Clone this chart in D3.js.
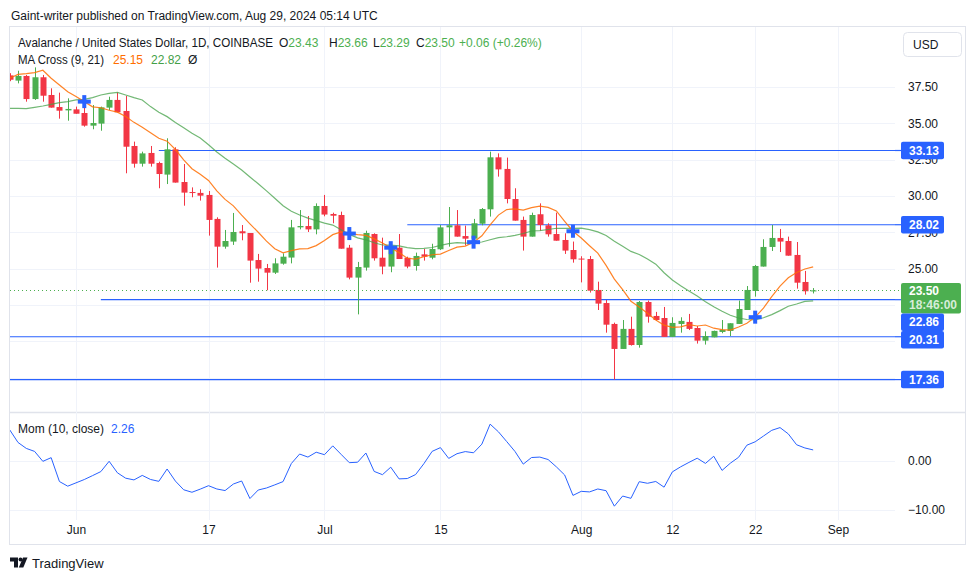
<!DOCTYPE html>
<html><head><meta charset="utf-8">
<script src="https://cdn.jsdelivr.net/npm/d3@7"></script>
<style>
body{margin:0;background:#fff}
svg{display:block}
text{font-family:"Liberation Sans",Arial,sans-serif;fill:#131722}
</style>
</head><body>
<svg id="chart" width="976" height="580"></svg>
<script>
// ---------------- DATA ----------------
const startDay = "2024-05-24";   // first daily candle (one candle per day)
const open  = [38.30,37.94,38.26,36.67,38.17,36.95,36.12,35.89,35.96,35.71,34.84,34.98,36.08,36.61,35.85,33.44,32.22,32.96,32.27,31.47,33.21,30.96,30.27,30.21,30.07,28.42,26.51,26.86,27.57,27.45,25.59,25.04,24.72,25.34,25.76,27.84,27.93,27.70,29.31,28.76,28.69,26.44,24.38,25.07,27.38,25.75,25.14,26.44,25.75,25.18,25.98,25.75,26.33,27.84,27.98,27.24,27.06,28.09,29.08,32.66,31.86,29.79,28.35,27.20,28.74,27.98,27.38,26.97,26.28,25.69,25.66,23.53,22.63,21.19,19.47,20.85,19.74,22.70,21.74,21.60,20.30,21.19,21.33,20.91,20.04,20.27,20.64,20.71,21.19,22.15,23.46,25.14,26.49,27.11,26.90,25.94,24.08,23.43];
const high  = [38.45,38.62,38.33,38.85,38.33,37.41,37.11,36.72,36.15,36.15,36.26,36.15,36.83,37.13,36.88,33.74,33.05,33.44,32.36,33.97,33.35,32.20,30.59,30.46,30.34,28.53,27.66,28.83,28.00,27.45,26.01,25.32,25.71,26.05,28.35,29.03,28.62,29.49,30.07,28.85,28.92,26.63,25.46,27.61,27.43,27.13,26.74,27.38,25.82,26.10,26.35,26.71,28.00,29.24,29.03,27.96,28.42,29.17,33.05,32.93,32.64,30.53,28.58,28.85,29.49,28.12,28.85,27.43,26.86,25.85,25.87,24.10,22.84,21.28,21.46,21.69,22.77,22.80,22.02,22.36,21.65,21.65,21.88,21.05,20.68,20.73,21.46,21.24,22.80,23.80,25.25,27.02,28.00,27.73,27.20,26.83,24.84,23.66];
const low   = [37.90,37.75,36.49,36.61,36.49,36.08,35.32,35.18,35.66,34.77,34.59,34.49,35.92,35.76,31.56,31.95,32.02,32.02,30.53,30.82,30.92,29.33,29.91,29.68,27.27,25.07,26.37,26.63,26.95,24.03,24.10,23.51,24.63,25.27,25.36,27.70,27.52,27.36,28.60,28.12,26.37,24.26,21.85,24.86,25.55,24.61,24.75,25.66,25.02,24.86,25.55,25.64,26.28,26.51,27.20,26.60,27.02,27.98,28.58,31.33,29.49,28.30,26.24,27.20,27.61,27.20,26.92,26.01,25.41,24.05,23.35,22.15,20.59,17.36,19.47,19.70,19.56,21.28,21.42,20.30,20.30,20.59,20.77,19.84,19.77,20.27,20.55,20.36,21.19,22.15,23.07,25.14,26.21,26.14,25.89,23.62,23.21,23.29];
const close = [38.00,38.26,36.67,38.17,36.90,36.08,35.87,35.99,35.66,34.84,35.02,36.10,36.61,35.76,33.39,32.22,32.93,32.22,31.51,33.21,30.92,30.23,30.23,30.02,28.35,26.51,26.90,27.52,27.43,25.55,25.00,24.72,25.36,25.82,27.84,27.93,27.70,29.31,28.72,28.64,26.37,24.38,25.11,27.45,25.71,25.14,26.44,25.66,25.14,25.87,25.82,26.35,27.84,27.98,27.20,27.06,28.12,29.10,32.66,31.83,29.79,28.30,27.20,28.69,28.00,27.36,26.92,26.24,25.64,25.64,23.48,22.59,21.14,19.47,20.85,19.74,22.70,21.69,21.46,20.30,21.26,21.40,20.85,20.04,20.36,20.71,20.78,21.24,22.22,23.53,25.18,26.49,27.11,26.86,25.89,24.03,23.44,23.50];

const ma9Lead  = [38.10,38.37,38.42,38.49,38.65,38.10,37.64,37.18];
const ma21Lead = [36.03,36.03,36.01,36.10,36.19,36.31,36.42,36.49,36.61,36.65,36.77,36.95,37.06,37.13,36.95,36.77,36.61,36.15,35.76,35.46];
const momLead  = [6.35,3.78,2.57,1.96,-0.07,0.68,-4.19,-5.14,-4.46,-3.78];

const crossDates = ["2024-06-02","2024-07-04","2024-07-09","2024-07-19","2024-07-31","2024-08-22"];
const levelPrices = [33.13, 28.02, 22.86, 20.31, 17.36];
const levelStarts = ["2024-06-11","2024-07-11","2024-06-04", null, null];

const priceTicks = [17.5, 20, 22.5, 25, 27.5, 30, 32.5, 35, 37.5];
const momTicks   = [0, -10];
const timeTicks  = ["2024-06-01","2024-06-17","2024-07-01","2024-07-15","2024-08-01","2024-08-12","2024-08-22","2024-09-01"];
const timeLabels = ["Jun","17","Jul","15","Aug","12","22","Sep"];

const lastPrice = 23.50;
const countdown = "18:46:00";
const ma9Last = "25.15", ma21Last = "22.82", momLast = "2.26";

// ---------------- SETUP ----------------
const UP = "#4caf50", DOWN = "#f23645", BLUE = "#2962ff", GRID = "#f0f3fa", BORDER = "#e0e3eb";
const parse = d3.utcParse("%Y-%m-%d");
const t0 = parse(startDay);
const dates = close.map((_, i) => d3.utcDay.offset(t0, i));

const svg = d3.select("#chart");
svg.append("rect").attr("width", 976).attr("height", 580).attr("fill", "#fff");

const P = {left: 10, right: 895, top: 27, bottom: 411};   // main pane
const M = {top: 413, bottom: 520};                        // momentum pane

const x = d3.scaleUtc().domain([parse("2024-06-01"), parse("2024-09-01")]).range([76, 838]);
const y = d3.scaleLinear().domain([37.5, 25]).range([87, 268.6]);
const ym = d3.scaleLinear().domain([0, -10]).range([461, 510]);

// indicators
const ma9 = close.map((c, i) => i < 8 ? ma9Lead[i] : d3.mean(close.slice(i - 8, i + 1)));
const ma21 = close.map((c, i) => i < 20 ? ma21Lead[i] : d3.mean(close.slice(i - 20, i + 1)));
const mom = close.map((c, i) => i < 10 ? momLead[i] : c - close[i - 10]);

const defs = svg.append("defs");
defs.append("clipPath").attr("id", "clipMain").append("rect")
  .attr("x", P.left).attr("y", P.top).attr("width", P.right - P.left).attr("height", P.bottom - P.top);
defs.append("clipPath").attr("id", "clipMom").append("rect")
  .attr("x", P.left).attr("y", M.top).attr("width", P.right - P.left).attr("height", M.bottom - M.top);

// outer frame
svg.append("rect").attr("x", 9.5).attr("y", 26.5).attr("width", 956).attr("height", 518)
  .attr("fill", "none").attr("stroke", BORDER);
// pane separator
svg.append("line").attr("x1", 9.5).attr("x2", 965.5).attr("y1", 412.5).attr("y2", 412.5)
  .attr("stroke", BORDER).attr("stroke-width", 1.5);

// grid
const grid = svg.append("g");
grid.selectAll(".vg").data(timeTicks).join("line")
  .attr("x1", d => Math.round(x(parse(d))) + 0.5).attr("x2", d => Math.round(x(parse(d))) + 0.5)
  .attr("y1", P.top).attr("y2", M.bottom).attr("stroke", GRID);
grid.selectAll(".hg").data(priceTicks).join("line")
  .attr("x1", P.left).attr("x2", P.right)
  .attr("y1", d => Math.round(y(d)) + 0.5).attr("y2", d => Math.round(y(d)) + 0.5).attr("stroke", GRID);
grid.selectAll(".mg").data(momTicks).join("line")
  .attr("x1", P.left).attr("x2", P.right)
  .attr("y1", d => Math.round(ym(d)) + 0.5).attr("y2", d => Math.round(ym(d)) + 0.5).attr("stroke", GRID);

// ---------------- MAIN PANE ----------------
const main = svg.append("g").attr("clip-path", "url(#clipMain)");

// horizontal levels
main.selectAll(".lvl").data(levelPrices).join("line")
  .attr("x1", (d, i) => levelStarts[i] ? x(parse(levelStarts[i])) : P.left)
  .attr("x2", 902)
  .attr("y1", d => y(d)).attr("y2", d => y(d))
  .attr("stroke", BLUE).attr("stroke-width", 1.2);
svg.selectAll(".lvlx").data(levelPrices).join("line")
  .attr("x1", P.right).attr("x2", 902)
  .attr("y1", d => y(d)).attr("y2", d => y(d))
  .attr("stroke", BLUE).attr("stroke-width", 1.2);

// last price dotted line
svg.append("line").attr("x1", P.left).attr("x2", 902)
  .attr("y1", Math.round(y(lastPrice)) + 0.5).attr("y2", Math.round(y(lastPrice)) + 0.5)
  .attr("stroke", UP).attr("stroke-dasharray", "1,3");

// candles
const bw = 6;
const cg = main.append("g");
const candles = cg.selectAll("g").data(close).join("g");
candles.append("line")
  .attr("x1", (d, i) => Math.round(x(dates[i])) + 0.5).attr("x2", (d, i) => Math.round(x(dates[i])) + 0.5)
  .attr("y1", (d, i) => y(high[i])).attr("y2", (d, i) => y(low[i]))
  .attr("stroke", (d, i) => close[i] >= open[i] ? UP : DOWN).attr("stroke-width", 1);
candles.append("rect")
  .attr("x", (d, i) => Math.round(x(dates[i])) + 0.5 - bw / 2)
  .attr("width", bw)
  .attr("y", (d, i) => y(Math.max(open[i], close[i])))
  .attr("height", (d, i) => Math.max(1, Math.abs(y(open[i]) - y(close[i]))))
  .attr("fill", (d, i) => close[i] >= open[i] ? UP : DOWN);

// moving averages
const lineMain = d3.line().x((d, i) => x(dates[i])).y(d => y(d));
main.append("path").datum(ma21).attr("d", lineMain)
  .attr("fill", "none").attr("stroke", "#43a047").attr("stroke-opacity", 0.75).attr("stroke-width", 1.2);
main.append("path").datum(ma9).attr("d", lineMain)
  .attr("fill", "none").attr("stroke", "#ff6d00").attr("stroke-opacity", 0.85).attr("stroke-width", 1.2);

// crosses
const crossG = main.append("g");
crossDates.forEach(ds => {
  const dt = parse(ds);
  const i = dates.findIndex(d => +d === +dt);
  const cx = x(dt), cy = y(ma9[i]);
  crossG.append("rect").attr("x", cx - 6.5).attr("y", cy - 2).attr("width", 13).attr("height", 4).attr("fill", BLUE);
  crossG.append("rect").attr("x", cx - 2).attr("y", cy - 6.5).attr("width", 4).attr("height", 13).attr("fill", BLUE);
});

// ---------------- MOMENTUM PANE ----------------
const momG = svg.append("g").attr("clip-path", "url(#clipMom)");
momG.append("path").datum(mom)
  .attr("d", d3.line().x((d, i) => x(dates[i])).y(d => ym(d)))
  .attr("fill", "none").attr("stroke", BLUE).attr("stroke-width", 1);

// ---------------- PRICE TAGS (layout first) ----------------
const fmt = d3.format(".2f");
const tagH = 17.5;
let tags = levelPrices.map(p => ({p, y: y(p), h: tagH, type: "lvl"}));
tags.push({p: lastPrice, y: y(lastPrice), h: 30.5, type: "last"});
tags.sort((a, b) => a.y - b.y);
let prevBottom = -Infinity;
tags.forEach(t => {
  let top = t.type === "last" ? t.y - 7.5 : t.y - t.h / 2;
  if (top < prevBottom) top = prevBottom;
  t.top = top; prevBottom = top + t.h;
});

// ---------------- AXES ----------------
// tick labels fully covered by a price tag are not shown (as on the reference)
const hiddenTick = v => tags.some(t => y(v) > t.top + 1 && y(v) < t.top + t.h - 3);
const pa = svg.append("g").attr("transform", "translate(906,0)")
  .call(d3.axisRight(y).tickValues(priceTicks).tickFormat(v => hiddenTick(v) ? "" : fmt(v)).tickSize(0).tickPadding(2));
pa.select(".domain").remove();
pa.selectAll("text").style("font-size", "12px").style("font-family", "Liberation Sans, Arial, sans-serif").attr("fill", "#131722");

const ma = svg.append("g").attr("transform", "translate(906,0)")
  .call(d3.axisRight(ym).tickValues(momTicks).tickFormat(fmt).tickSize(0).tickPadding(2));
ma.select(".domain").remove();
ma.selectAll("text").style("font-size", "12px").style("font-family", "Liberation Sans, Arial, sans-serif").attr("fill", "#131722");

const ta = svg.append("g").attr("transform", "translate(0,521)")
  .call(d3.axisBottom(x).tickValues(timeTicks.map(parse)).tickFormat((d, i) => timeLabels[i]).tickSize(0).tickPadding(4));
ta.select(".domain").remove();
ta.selectAll("text").style("font-size", "12px").style("font-family", "Liberation Sans, Arial, sans-serif").attr("fill", "#131722");

// USD box
svg.append("rect").attr("x", 903.5).attr("y", 32.5).attr("width", 58).attr("height", 24).attr("rx", 4)
  .attr("fill", "#fff").attr("stroke", BORDER);
svg.append("text").attr("x", 913).attr("y", 49).style("font-size", "12px").text("USD");

// draw tags
tags.forEach(t => {
  const g = svg.append("g");
  if (t.type === "last") {
    g.append("rect").attr("x", 901).attr("y", t.top).attr("width", 60).attr("height", t.h).attr("rx", 2).attr("fill", UP);
    g.append("text").attr("x", 909).attr("y", t.top + 12).style("font-size", "12px").style("font-weight", "bold")
      .style("fill", "#fff").text(fmt(t.p));
    g.append("text").attr("x", 909).attr("y", t.top + 26).style("font-size", "12px").style("font-weight", "bold")
      .style("fill", "rgba(255,255,255,0.78)").text(countdown);
  } else {
    g.append("rect").attr("x", 901).attr("y", t.top).attr("width", 43).attr("height", t.h).attr("rx", 2).attr("fill", BLUE);
    g.append("text").attr("x", 909).attr("y", t.top + t.h / 2 + 4.3).style("font-size", "12px").style("font-weight", "bold")
      .style("fill", "#fff").text(fmt(t.p));
  }
});

// ---------------- TEXTS ----------------
svg.append("text").attr("x", 11).attr("y", 19.5).style("font-size", "12px").style("fill", "#131722")
  .text("Gaint-writer published on TradingView.com, Aug 29, 2024 05:14 UTC");

const h1 = 46.5, h2 = 63.5;
svg.append("text").attr("x", 18).attr("y", h1).style("font-size", "12px")
  .attr("textLength", 255).attr("lengthAdjust", "spacingAndGlyphs")
  .text("Avalanche / United States Dollar, 1D, COINBASE");
const ohlc = [["O", open[97], 279], ["H", high[97], 329], ["L", low[97], 373], ["C", close[97], 416]];
ohlc.forEach(([k, v, px]) => {
  const t = svg.append("text").attr("x", px).attr("y", h1).style("font-size", "12px");
  t.append("tspan").text(k);
  t.append("tspan").style("fill", UP).text(fmt(v));
});
const chg = close[97] - close[96];
svg.append("text").attr("x", 459).attr("y", h1).style("font-size", "12px").style("fill", UP)
  .text(`+${fmt(chg)} (+${fmt(chg / close[96] * 100)}%)`);

svg.append("text").attr("x", 18).attr("y", h2).style("font-size", "12px")
  .attr("textLength", 86).attr("lengthAdjust", "spacingAndGlyphs").text("MA Cross (9, 21)");
svg.append("text").attr("x", 113).attr("y", h2).style("font-size", "12px").style("fill", "#ff6d00").text(ma9Last);
svg.append("text").attr("x", 151).attr("y", h2).style("font-size", "12px").style("fill", "#43a047").text(ma21Last);
svg.append("text").attr("x", 188).attr("y", h2).style("font-size", "12px").style("fill", "#131722").text("Ø");

svg.append("text").attr("x", 18).attr("y", 433).style("font-size", "12px").text("Mom (10, close)");
svg.append("text").attr("x", 111).attr("y", 433).style("font-size", "12px").style("fill", BLUE).text(momLast);

// TradingView logo
const logo = svg.append("g").attr("fill", "#131722");
logo.append("path").attr("d", "M10 557.5 h8 v10 h-4 v-6 h-4 z");
logo.append("circle").attr("cx", 20.5).attr("cy", 559.5).attr("r", 2);
logo.append("path").attr("d", "M23 557.5 h4.5 l-4.2 10 h-4.5 z");
svg.append("text").attr("x", 32).attr("y", 567.5).style("font-size", "13px").text("TradingView");
</script>
</body></html>
